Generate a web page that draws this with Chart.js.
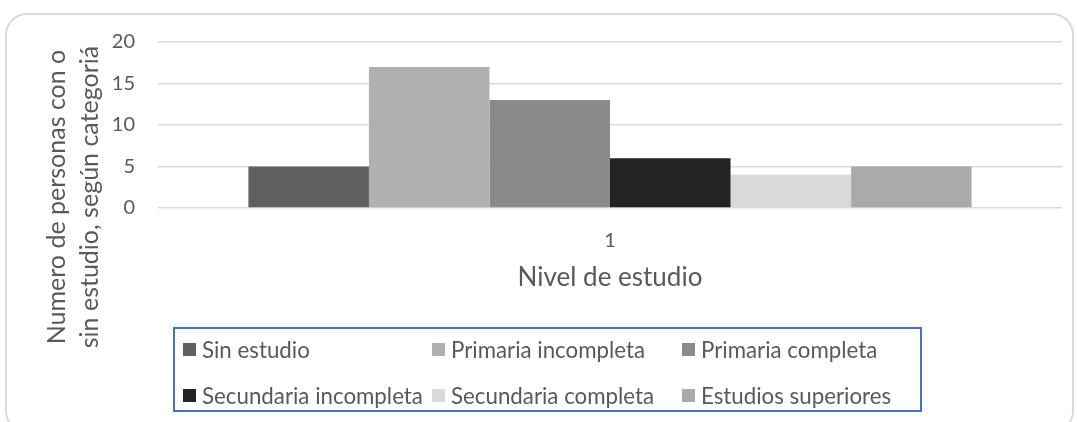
<!DOCTYPE html>
<html>
<head>
<meta charset="utf-8">
<script src="https://cdn.jsdelivr.net/npm/chart.js@4.4.0/dist/chart.umd.min.js"></script>
<style>
  html, body { margin: 0; padding: 0; background: #fff; }
  #wrap { position: relative; width: 1077px; height: 422px; overflow: hidden; font-family: Lato, "Open Sans", sans-serif; }
  #frame { position: absolute; left: 5px; top: 13px; width: 1069px; height: 420px; border: 2px solid #d9d9d9; border-radius: 22px; box-sizing: border-box; }
  #chart { position: absolute; left: 0; top: 0; }
  #legend { position: absolute; left: 173px; top: 327px; width: 749px; height: 85px; border: 2px solid #4472c4; box-sizing: border-box; }
  .item { position: absolute; display: flex; align-items: center; font-size: 22.3px; color: #595959; white-space: nowrap; height: 28px; }
  .item span.box { width: 13px; height: 13px; margin-right: 6px; flex: none; }
</style>
</head>
<body>
<div id="wrap">
  <div id="frame"></div>
  <canvas id="chart" width="1077" height="422"></canvas>
  <div id="legend"></div>
</div>
<script>
// datos
const categories = ['1'];
const seriesNames = ['Sin estudio', 'Primaria incompleta', 'Primaria completa',
                     'Secundaria incompleta', 'Secundaria completa', 'Estudios superiores'];
const seriesValues = [5, 17, 13, 6, 4, 5];
const seriesColors = ['#606060', '#b0b0b0', '#8a8a8a', '#232323', '#d9d9d9', '#aaaaaa'];
const yTitleLines = ['Numero de personas con o', 'sin estudio, según categoriá'];
const xTitle = 'Nivel de estudio';

const textColor = '#595959';

// titulo del eje Y en dos lineas, girado
const yTitlePlugin = {
    id: 'yTitle',
    afterDraw(chart) {
        const ctx = chart.ctx;
        const cy = 197;
        const baselines = [65, 98];
        ctx.save();
        ctx.fillStyle = textColor;
        ctx.font = '25px Lato, "Open Sans", sans-serif';
        ctx.textAlign = 'center';
        ctx.textBaseline = 'alphabetic';
        yTitleLines.forEach((line, i) => {
            ctx.save();
            ctx.translate(baselines[i], cy);
            ctx.rotate(-Math.PI / 2);
            ctx.fillText(line, 0, 0);
            ctx.restore();
        });
        ctx.restore();
    }
};

const datasets = seriesNames.map((name, i) => ({
    label: name,
    data: [seriesValues[i]],
    backgroundColor: seriesColors[i],
    borderWidth: 0,
    categoryPercentage: 0.8,
    barPercentage: 1.0
}));

const ctx = document.getElementById('chart').getContext('2d');
const chart = new Chart(ctx, {
    type: 'bar',
    data: { labels: categories, datasets: datasets },
    options: {
        responsive: false,
        animation: false,
        layout: { padding: { left: 0, right: 15, top: 42, bottom: 129 } },
        scales: {
            y: {
                min: 0,
                max: 20,
                ticks: {
                    stepSize: 5,
                    color: textColor,
                    padding: 23,
                    font: { family: 'Lato, "Open Sans", sans-serif', size: 20 }
                },
                grid: { color: '#d9d9d9', lineWidth: 1.5, drawTicks: false },
                border: { display: false },
                afterFit(scale) { scale.width = 158; }
            },
            x: {
                ticks: {
                    color: textColor,
                    padding: 21,
                    font: { family: 'Lato, "Open Sans", sans-serif', size: 20 }
                },
                grid: { display: false, drawTicks: false },
                border: { display: false },
                title: {
                    display: true,
                    text: xTitle,
                    color: textColor,
                    padding: 0,
                    font: { family: 'Lato, "Open Sans", sans-serif', size: 26 }
                },
                afterFit(scale) { scale.height = 85; }
            }
        },
        plugins: {
            legend: { display: false },
            tooltip: { enabled: false }
        }
    },
    plugins: [yTitlePlugin]
});

// leyenda en cuadro azul, 3 columnas x 2 filas
const legendEl = document.getElementById('legend');
const colX = [8, 257, 507];
const rowY = [6, 52];
seriesNames.forEach((name, i) => {
    const item = document.createElement('div');
    item.className = 'item';
    item.style.left = colX[i % 3] + 'px';
    item.style.top = rowY[Math.floor(i / 3)] + 'px';
    const box = document.createElement('span');
    box.className = 'box';
    box.style.background = seriesColors[i];
    item.appendChild(box);
    item.appendChild(document.createTextNode(name));
    legendEl.appendChild(item);
});
</script>
</body>
</html>
